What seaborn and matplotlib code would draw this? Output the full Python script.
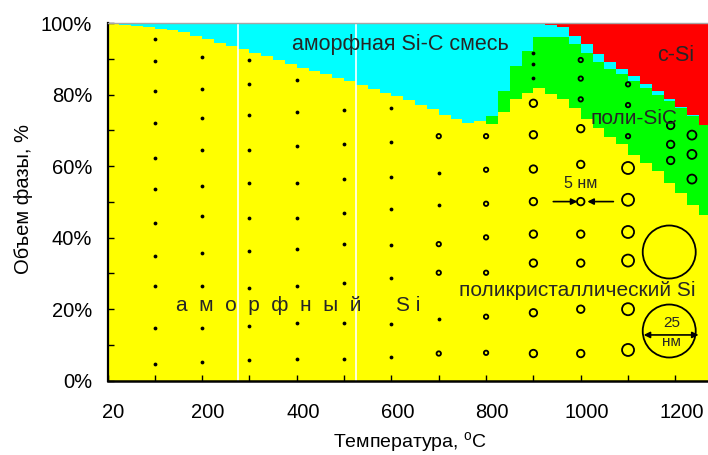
import numpy as np
import pandas as pd
import matplotlib
matplotlib.use("Agg")
import matplotlib.pyplot as plt
import matplotlib.transforms as mtransforms
from matplotlib.ticker import FixedLocator, MultipleLocator
import seaborn as sns

# ---------------------------------------------------------------------------
# Phase boundaries (cumulative volume fraction, %), one value per 25 °C step
# from 0 to 1275 °C.
# ---------------------------------------------------------------------------
STEP = 25
si_top = [100.0, 99.5, 99.2, 98.9, 98.4, 98.1, 97.6, 96.4, 95.5, 94.4, 93.5,
          92.7, 91.6, 90.7, 89.6, 88.5, 87.4, 86.6, 85.7, 84.6, 83.8,
          82.6, 81.7, 80.5, 79.6, 78.4, 77.0, 75.9, 74.3, 73.1, 72.2, 72.6,
          71.9, 75.2, 78.7, 80.6, 81.8, 80.2, 78.7, 76.3, 73.1, 70.7, 68.1,
          66.1, 63.2, 60.9, 58.6, 55.3, 52.5, 49.2, 46.4]
# top of poly-SiC layer (equals si_top where there is no poly-SiC)
polysic_top = si_top[:32] + [74.0, 81.0, 88.0, 92.1, 96.2, 96.1, 96.2, 94.1,
                             91.8, 89.2, 87.1, 85.7, 83.9, 82.0, 79.9, 78.2,
                             76.3, 74.0, 71.5]
# top of amorphous Si-C mixture (bottom of c-Si)
mix_top = [100.0] * 37 + [99.6, 99.0, 96.4, 94.1, 91.5, 89.2, 87.3, 85.2,
                          83.1, 81.0, 78.7, 76.5, 74.3, 71.5]

phases = ["c-Si", "аморфная Si-C смесь", "поли-SiC", "Si"]
phase_colors = {"c-Si": "#ff0000", "аморфная Si-C смесь": "#00ffff",
                "поли-SiC": "#00ff00", "Si": "#ffff00"}

# ---------------------------------------------------------------------------
# Nanocrystal markers: (temperature °C, kind, heights in %)
# ---------------------------------------------------------------------------
marker_columns = [
    (100, "dot", [95.5, 89.3, 80.9, 72.2, 62.4, 53.7, 44.2, 35.0, 26.5, 14.7, 4.6]),
    (200, "dot", [90.5, 81.6, 73.4, 64.5, 54.6, 46.1, 35.6, 26.5, 14.7, 5.3]),
    (300, "dot", [89.7, 83.1, 74.3, 64.5, 55.3, 45.5, 36.4, 26.0, 15.3, 5.8]),
    (400, "dot", [84.0, 75.2, 65.6, 55.3, 45.5, 36.9, 26.5, 16.2, 6.2]),
    (500, "dot", [75.6, 66.3, 56.5, 46.8, 38.3, 27.3, 16.2, 6.2]),
    (600, "dot", [76.2, 66.9, 57.0, 48.1, 38.0, 28.8, 16.0, 6.5]),
    (700, "dot", [58.1, 49.1, 17.2]),
    (700, "tiny", [68.4, 38.2, 30.2, 7.6]),
    (800, "tiny", [68.4, 59.0, 49.5, 40.1, 30.2, 17.9, 7.8]),
    (900, "dot", [91.8, 88.5, 84.7]),
    (900, "small", [77.6, 68.8, 59.2, 50.1, 41.0, 32.9, 19.0, 7.6]),
    (1000, "tiny", [89.7, 84.5, 78.7]),
    (1000, "small", [70.5, 60.5, 50.1, 41.0, 32.9, 20.0, 7.6]),
    (1100, "tiny", [82.9, 77.1, 68.4]),
    (1100, "large", [59.5, 50.6, 41.6, 33.6, 20.0, 8.6]),
    (1190, "small", [71.4, 66.1, 61.6]),
    (1235, "medium", [68.7, 63.3, 56.4]),
    (1187, "scale", [36.0, 13.9]),
]
# marker diameter in pixels for each kind
marker_diam_px = {"dot": 3.8, "tiny": 4.4, "small": 7.5, "medium": 9.0,
                  "large": 12.0, "scale": 53.0}

x_tick_pos = [0, 200, 400, 600, 800, 1000, 1200]
x_tick_labels = ["20", "200", "400", "600", "800", "1000", "1200"]
y_tick_pos = [0, 20, 40, 60, 80, 100]
y_tick_labels = ["0%", "20%", "40%", "60%", "80%", "100%"]

# ---------------------------------------------------------------------------
W, H, DPI = 708, 455, 100
sns.set_theme(style="white")
plt.rcParams["font.family"] = ["Liberation Sans", "DejaVu Sans"]

fig = plt.figure(figsize=(W / DPI, H / DPI), dpi=DPI)
ax = fig.add_axes([107.5 / W, 74.3 / H, 601 / W, 357.5 / H])

# stacked stepped areas
edges = [float(e) for e in np.arange(0, 1275 + STEP, STEP)]
centers = np.arange(0, 1275, STEP) + STEP / 2
si = np.array(si_top)
psic = np.array(polysic_top)
mix = np.array(mix_top)
layers = {"Si": si, "поли-SiC": psic - si,
          "аморфная Si-C смесь": mix - psic, "c-Si": 100 - mix}
area_df = pd.concat(
    [pd.DataFrame({"T": centers, "pct": v, "phase": k}) for k, v in layers.items()],
    ignore_index=True)
sns.histplot(data=area_df, x="T", weights="pct", hue="phase", hue_order=phases,
             bins=edges, multiple="stack", element="step", palette=phase_colors,
             alpha=1, linewidth=0, legend=False, ax=ax)

# white process boundaries
for xv in (275, 525):
    ax.axvline(xv, color="white", lw=1.2, zorder=2)

# markers
rows = []
for t, kind, pcts in marker_columns:
    for p in pcts:
        rows.append({"T": t, "pct": p, "kind": kind})
mk = pd.DataFrame(rows)
for kind, d_px in marker_diam_px.items():
    sub = mk[mk["kind"] == kind]
    s = (d_px * 72 / DPI) ** 2
    if kind == "dot":
        sns.scatterplot(data=sub, x="T", y="pct", s=s, color="black",
                        linewidth=0, ax=ax, zorder=4, legend=False)
    else:
        sns.scatterplot(data=sub, x="T", y="pct", s=s, facecolor="none",
                        edgecolor="black", linewidth=1.3, ax=ax, zorder=4,
                        legend=False)

# size annotations
arrow_kw = dict(arrowstyle="-|>", color="black", lw=1.2, mutation_scale=9,
                shrinkA=0, shrinkB=0)
ax.annotate("", xy=(993, 50.1), xytext=(942, 50.1), arrowprops=arrow_kw, zorder=5)
ax.annotate("", xy=(1014, 50.1), xytext=(1069, 50.1), arrowprops=arrow_kw, zorder=5)
ax.text(999, 53.9, "5 нм", ha="center", va="baseline", fontsize=11.5, zorder=5)
ax.annotate("", xy=(1133, 12.8), xytext=(1249, 12.8),
            arrowprops=dict(arrowstyle="<|-|>", color="black", lw=1.2,
                            mutation_scale=9, shrinkA=0, shrinkB=0), zorder=5)
ax.text(1192, 14.9, "25", ha="center", va="baseline", fontsize=11, zorder=5)
ax.text(1192, 9.7, "нм", ha="center", va="baseline", fontsize=11, zorder=5)

# region labels
ax.text(618, 92.5, "аморфная Si-C смесь", ha="center", va="baseline",
        fontsize=15.5, zorder=5)
ax.text(1200, 89.4, "c-Si", ha="center", va="baseline", fontsize=15.5, zorder=5)
ax.text(1112, 71.7, "поли-SiC", ha="center", va="baseline", fontsize=15, zorder=5)
ax.text(992, 23.7, "поликристаллический Si", ha="center", va="baseline",
        fontsize=15, zorder=5)
ax.text(402, 19.6, "а  м  о  р  ф  н  ы  й      S i", ha="center",
        va="baseline", fontsize=15, zorder=5)

# axes
ax.set_xlim(0, 1270)
ax.set_ylim(0, 100)
ax.xaxis.set_major_locator(FixedLocator(x_tick_pos))
ax.set_xticklabels(x_tick_labels)
ax.xaxis.set_minor_locator(MultipleLocator(100))
ax.yaxis.set_major_locator(FixedLocator(y_tick_pos))
ax.set_yticklabels(y_tick_labels)
ax.yaxis.set_minor_locator(MultipleLocator(10))
ax.set_axisbelow(False)
ax.tick_params(which="both", direction="in", length=4, width=1,
               color="black", bottom=True, left=True, top=False, right=False)
ax.tick_params(axis="x", which="major", pad=16, labelsize=14.5, labelcolor="black")
ax.tick_params(axis="y", which="major", pad=11, labelsize=14.5, labelcolor="black")
shift = mtransforms.ScaledTranslation(6 / DPI, 0, fig.dpi_scale_trans)
for lab in ax.get_xticklabels():
    lab.set_transform(lab.get_transform() + shift)

ax.set_xlabel("Температура, $\\mathregular{^oC}$", fontsize=14, color="black")
ax.set_ylabel("Объем фазы, %", fontsize=14.5, color="black")
ax.xaxis.set_label_coords(0.503, -0.138)
ax.yaxis.set_label_coords(-0.124, 0.508)

for side in ("left", "bottom"):
    ax.spines[side].set_color("black")
ax.spines["left"].set_linewidth(1.6)
ax.spines["bottom"].set_linewidth(1.8)
ax.spines["top"].set_color("#a6a6a6")
ax.spines["top"].set_linewidth(1.0)
ax.spines["right"].set_visible(False)
for sp in ax.spines.values():
    sp.set_zorder(6)

fig.savefig("out.png", dpi=DPI)
